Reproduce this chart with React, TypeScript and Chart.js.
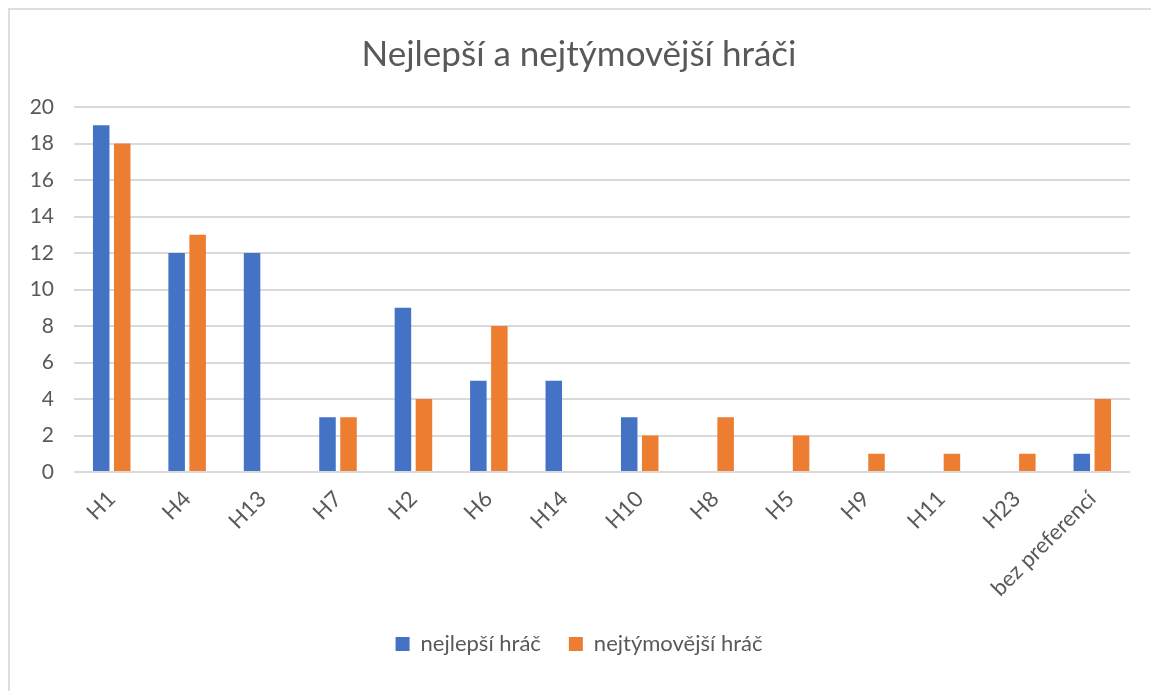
import React, { useEffect, useRef } from "react";
import { Chart, registerables } from "chart.js";

Chart.register(...registerables);

const categories = ["H1", "H4", "H13", "H7", "H2", "H6", "H14", "H10", "H8", "H5", "H9", "H11", "H23", "bez preferencí"];
const bestPlayer = [19, 12, 12, 3, 9, 5, 5, 3, 0, 0, 0, 0, 0, 1];
const teamPlayer = [18, 13, 0, 3, 4, 8, 0, 2, 3, 2, 1, 1, 1, 4];
const seriesNames = ["nejlepší hráč", "nejtýmovější hráč"];
const titleText = "Nejlepší a nejtýmovější hráči";

const FONT = "Lato, 'Noto Sans', sans-serif";
const TEXT = "#595959";

export default function App() {
  const ref = useRef<HTMLCanvasElement | null>(null);
  useEffect(() => {
    if (!ref.current) return;
    const chart = new Chart(ref.current, {
      type: "bar",
      data: {
        labels: categories,
        datasets: [
          { label: seriesNames[0], data: bestPlayer, backgroundColor: "#4472C4", categoryPercentage: 0.557, barPercentage: 0.786 },
          { label: seriesNames[1], data: teamPlayer, backgroundColor: "#ED7D31", categoryPercentage: 0.557, barPercentage: 0.786 },
        ],
      },
      options: {
        animation: false,
        responsive: false,
        maintainAspectRatio: false,
        layout: { padding: { left: 18, right: 29, top: 0, bottom: 26 } },
        plugins: {
          title: {
            display: true,
            text: titleText,
            color: TEXT,
            font: { family: FONT, size: 35, weight: "normal" },
            padding: { top: 24, bottom: 31 },
          },
          legend: {
            position: "bottom",
            labels: {
              color: TEXT,
              font: { family: FONT, size: 22 },
              boxWidth: 14,
              boxHeight: 14,
              padding: 28,
            },
          },
          tooltip: { enabled: false },
        },
        scales: {
          x: {
            grid: { display: false },
            border: { display: false },
            ticks: {
              color: TEXT,
              font: { family: FONT, size: 22 },
              maxRotation: 45,
              minRotation: 45,
              autoSkip: false,
              padding: 6,
            },
            afterFit: (s: any) => { s.height = 133; },
          },
          y: {
            min: 0,
            max: 20,
            grid: { color: "#D9D9D9", lineWidth: 2, drawTicks: false },
            border: { display: false },
            ticks: {
              stepSize: 2,
              color: TEXT,
              font: { family: FONT, size: 21 },
              padding: 20,
            },
            afterFit: (s: any) => { s.width = 46; },
          },
        },
      },
    });
    return () => chart.destroy();
  }, []);
  return (
    <div
      style={{
        width: 1151,
        height: 683,
        boxSizing: "border-box",
        borderLeft: "2px solid #DEDEDE",
        borderTop: "2px solid #DEDEDE",
        background: "#fff",
      }}
    >
      <canvas ref={ref} width={1149} height={681} style={{ display: "block" }} />
    </div>
  );
}
